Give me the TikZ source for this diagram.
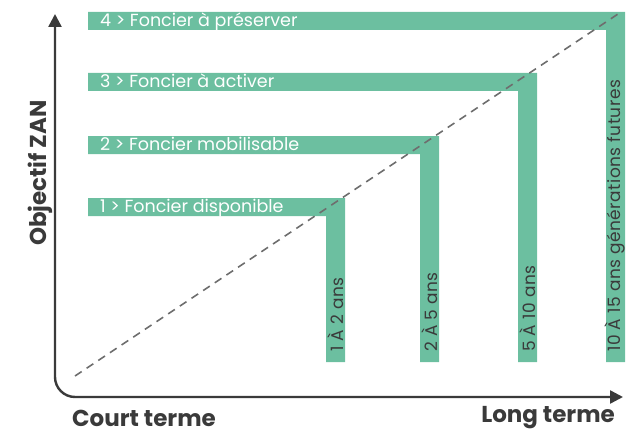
\documentclass[tikz,border=0pt]{standalone}
\usepackage{fontspec}
\setmainfont{Poppins}
\usetikzlibrary{arrows.meta}

\definecolor{foncier}{RGB}{108,191,160}
\definecolor{axe}{RGB}{58,58,58}
\definecolor{tiret}{RGB}{110,110,110}

\tikzset{
  palier/.style={fill=foncier,draw=none},
  palierlabel/.style={anchor=base west,text=white,inner sep=0pt,
    font=\fontsize{17.5}{18}\selectfont},
  dureelabel/.style={anchor=base west,rotate=90,text=axe,inner sep=0pt,
    font=\fontsize{17}{18}\selectfont\addfontfeature{LetterSpace=3}},
  axelabel/.style={text=axe,inner sep=0pt,
    font=\bfseries\fontsize{23}{24}\selectfont},
  axeline/.style={line width=2.4pt,draw=axe,rounded corners=20pt,
    {Triangle[length=13pt,width=13pt]}-{Triangle[length=13pt,width=13pt]}},
  tendance/.style={draw=tiret,line width=1.6pt,dash pattern=on 8pt off 6pt}
}

\begin{document}
\begin{tikzpicture}[x=1pt,y=-1pt]
  \useasboundingbox (0,0) rectangle (626,433);

  % paliers en L
  \foreach \t/\r in {198/345,136/439,73/537,12/625}
    \fill[palier] (88,\t) -- (\r,\t) -- (\r,362) -- (\r-19,362)
      -- (\r-19,\t+18) -- (88,\t+18) -- cycle;

  \node[palierlabel] (f1) at (100,212.5) {1 > Foncier disponible};
  \node[palierlabel] (f2) at (100,150.5) {2 > Foncier mobilisable};
  \node[palierlabel] (f3) at (100,87.5) {3 > Foncier à activer};
  \node[palierlabel] (f4) at (100,26.5) {4 > Foncier à préserver};

  \node[dureelabel] (d1) at (343,352) {1 À 2 ans};
  \node[dureelabel] (d2) at (437,352) {2 À 5 ans};
  \node[dureelabel] (d3) at (535,352) {5 À 10 ans};
  \node[dureelabel] (d4) at (620,352) {10 À 15 ans générations futures};

  % tendance
  \coordinate (tdeb) at (75,376);
  \coordinate (tfin) at (621,12);
  \draw[tendance] (tdeb) -- (tfin);

  % axes
  \coordinate (ytop) at (55,14);
  \coordinate (orig) at (55,397);
  \coordinate (xend) at (623,397);
  \draw[axeline] (ytop) -- (orig) -- (xend);

  \node[axelabel,rotate=90,anchor=base] (zan) at (46,173) {Objectif ZAN};
  \node[axelabel,anchor=west] (court) at (72,418) {Court terme};
  \node[axelabel,anchor=east] (long) at (615,418) {Long terme};
\end{tikzpicture}
\end{document}
